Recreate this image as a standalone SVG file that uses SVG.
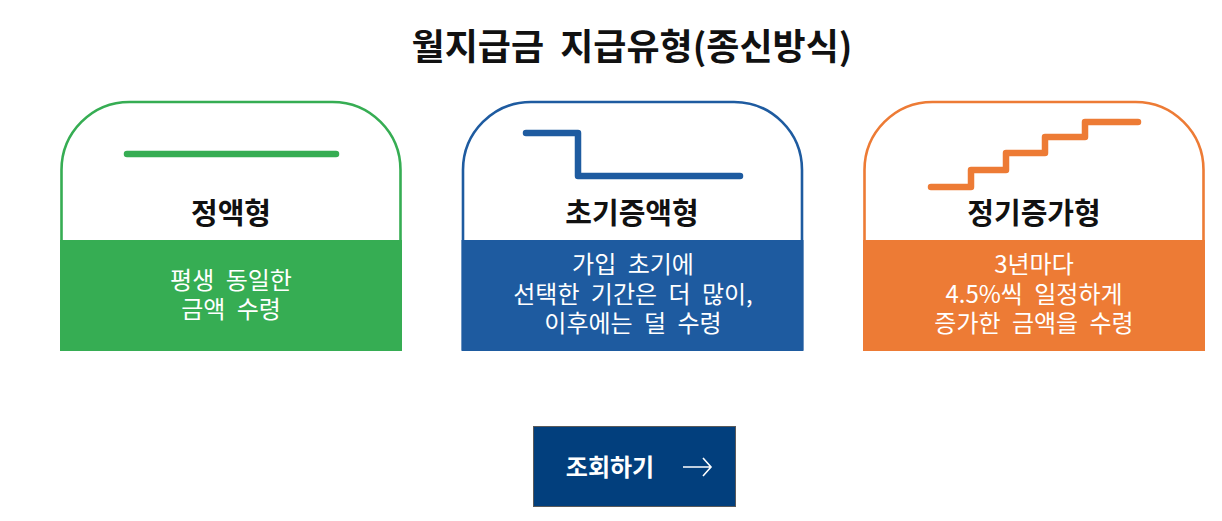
<svg xmlns="http://www.w3.org/2000/svg" width="1222" height="521" viewBox="0 0 1222 521">
<style>
.ttl{font-family:"Noto Sans CJK KR","Noto Sans",sans-serif;font-weight:700;fill:#111;text-anchor:middle}
.ct{font-family:"Noto Sans CJK KR","Noto Sans",sans-serif;font-weight:700;font-size:29px;fill:#111;text-anchor:middle}
.ds{font-family:"Noto Sans CJK KR","Noto Sans",sans-serif;font-size:24px;fill:#fff;text-anchor:middle;word-spacing:6px}
.frame{fill:#fff;stroke-width:2.6}
.icon{fill:none;stroke-width:6.5;stroke-linecap:round;stroke-linejoin:round}
.g{stroke:#36AD53}.gf{fill:#36AD53}
.b{stroke:#1E5BA0}.bf{fill:#1E5BA0}
.o{stroke:#ED7B35}.of{fill:#ED7B35}
</style>
<rect width="1222" height="521" fill="#fff"/>
<text class="ttl" x="632" y="60" font-size="36" word-spacing="8">월지급금 지급유형(종신방식)</text>

<g id="card-fixed">
<path class="frame g" d="M61.5 350 V170 A68 68 0 0 1 129.5 102 H332.5 A68 68 0 0 1 400.5 170 V350"/>
<rect class="gf" x="60" y="240" width="342" height="111"/>
<path class="icon g" d="M127 154 H336"/>
<text class="ct" x="231" y="224">정액형</text>
<text class="ds" x="231" y="289">평생 동일한</text>
<text class="ds" x="231" y="318">금액 수령</text>
</g>

<g id="card-early">
<path class="frame b" d="M463 350 V170 A68 68 0 0 1 531 102 H734 A68 68 0 0 1 802 170 V350"/>
<rect class="bf" x="461.5" y="240" width="342" height="111"/>
<path class="icon b" d="M526 133 H578 V176 H740"/>
<text class="ct" x="632" y="224">초기증액형</text>
<text class="ds" x="633" y="273">가입 초기에</text>
<text class="ds" x="633" y="303">선택한 기간은 더 많이,</text>
<text class="ds" x="633" y="332">이후에는 덜 수령</text>
</g>

<g id="card-increase">
<path class="frame o" d="M864.5 350 V170 A68 68 0 0 1 932.5 102 H1135.5 A68 68 0 0 1 1203.5 170 V350"/>
<rect class="of" x="863" y="240" width="342" height="111"/>
<path class="icon o" d="M931 187 H971 V170 H1006 V153 H1045 V137 H1085 V122 H1138"/>
<text class="ct" x="1034" y="224">정기증가형</text>
<text class="ds" x="1034" y="273">3년마다</text>
<text class="ds" x="1034" y="303">4.5%씩 일정하게</text>
<text class="ds" x="1034" y="332">증가한 금액을 수령</text>
</g>

<g id="button">
<rect x="533.5" y="426.5" width="202" height="80" fill="#023F7D" stroke="#5a5a5a" stroke-width="1"/>
<text x="610" y="476" font-family="'Noto Sans CJK KR','Noto Sans',sans-serif" font-weight="700" font-size="24" fill="#fff" text-anchor="middle">조회하기</text>
<path d="M683 467 H711 M703 458 L711 467 L703 476" fill="none" stroke="#fff" stroke-width="1.6"/>
</g>
<g id="connectors"/>
</svg>
